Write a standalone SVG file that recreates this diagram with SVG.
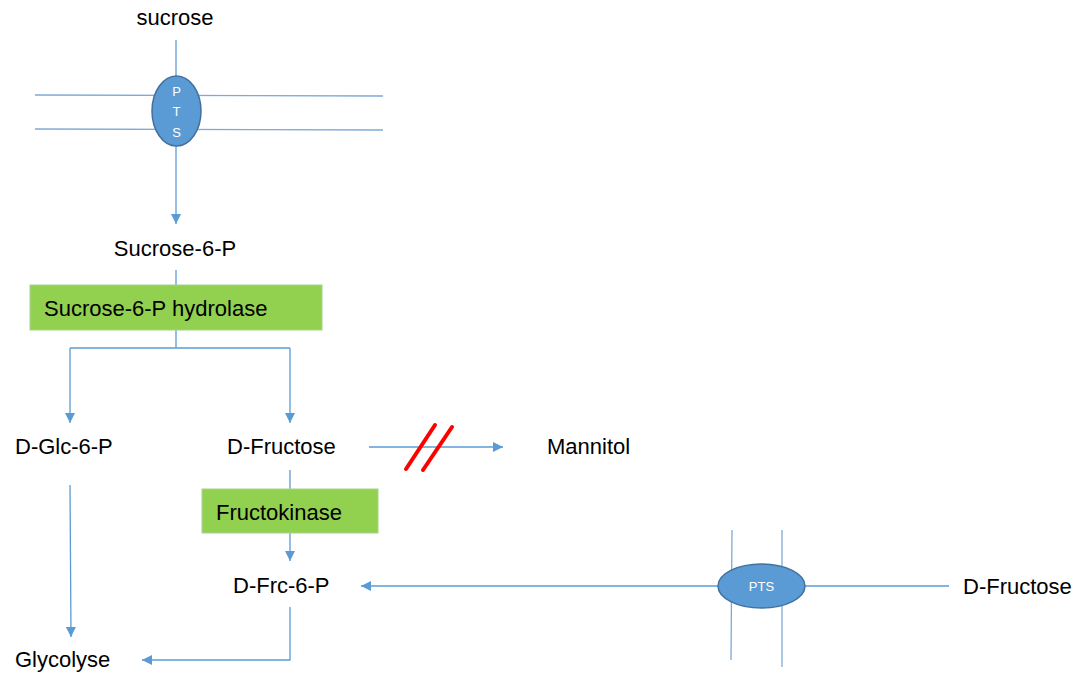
<svg xmlns="http://www.w3.org/2000/svg" width="1078" height="675" viewBox="0 0 1078 675">
  <style>
    .lbl { font-family: "Liberation Sans", Arial, sans-serif; font-size: 22px; fill: #000; }
    .pts { font-family: "Liberation Sans", Arial, sans-serif; font-size: 13px; fill: #fff; }
    .ln { stroke: #5B9BD5; stroke-width: 1.3; fill: none; }
    .mem { stroke: #7FA9D6; stroke-width: 1.3; fill: none; }
    .enz { fill: #92D050; stroke: #A9D18E; stroke-width: 1; }
    .carrier { fill: #5B9BD5; stroke: #41719C; stroke-width: 1.5; }
    .block { stroke: #FF0000; stroke-width: 4; stroke-linecap: round; }
  </style>
  <defs>
    <marker id="arr" markerWidth="10" markerHeight="10" refX="10" refY="5" orient="auto" markerUnits="userSpaceOnUse">
      <path d="M0,0 L10,5 L0,10 Z" fill="#5B9BD5"/>
    </marker>
  </defs>

  <!-- membranes -->
  <g id="membrane-top">
    <line class="mem" x1="35" y1="95" x2="383" y2="96"/>
    <line class="mem" x1="35" y1="129" x2="383" y2="130"/>
  </g>
  <g id="membrane-right">
    <line class="mem" x1="732" y1="530" x2="731" y2="660"/>
    <line class="mem" x1="782" y1="530" x2="782" y2="667"/>
  </g>

  <!-- connectors -->
  <g id="connectors">
    <line class="ln" x1="176" y1="40" x2="176" y2="76"/>
    <line class="ln" x1="176" y1="146" x2="176" y2="224" marker-end="url(#arr)"/>
    <line class="ln" x1="176" y1="270" x2="176" y2="285"/>
    <path class="ln" d="M176,330 V348 M70,348 H290"/>
    <line class="ln" x1="70" y1="348" x2="70" y2="423" marker-end="url(#arr)"/>
    <line class="ln" x1="290" y1="348" x2="290" y2="423" marker-end="url(#arr)"/>
    <line class="ln" x1="369" y1="447" x2="503" y2="447" marker-end="url(#arr)"/>
    <line class="ln" x1="290" y1="470" x2="290" y2="489"/>
    <line class="ln" x1="290" y1="533" x2="290" y2="561" marker-end="url(#arr)"/>
    <line class="ln" x1="70" y1="485" x2="71" y2="637" marker-end="url(#arr)"/>
    <path class="ln" d="M290,607 V660 H142" marker-end="url(#arr)"/>
    <line class="ln" x1="949" y1="586" x2="805" y2="586"/>
    <line class="ln" x1="718" y1="586" x2="361" y2="586" marker-end="url(#arr)"/>
  </g>

  <!-- blocked reaction mark -->
  <g id="block-mark">
    <line class="block" x1="406" y1="469" x2="435" y2="425"/>
    <line class="block" x1="423" y1="470" x2="452" y2="427"/>
  </g>

  <g id="sucrose"><text class="lbl" x="175" y="25" text-anchor="middle">sucrose</text></g>

  <g id="pts-top">
    <ellipse class="carrier" cx="176.5" cy="111" rx="24.5" ry="35"/>
    <text class="pts" x="176.5" y="96" text-anchor="middle">P</text>
    <text class="pts" x="176.5" y="116" text-anchor="middle">T</text>
    <text class="pts" x="176.5" y="137" text-anchor="middle">S</text>
  </g>

  <g id="sucrose-6-p"><text class="lbl" x="175" y="256" text-anchor="middle">Sucrose-6-P</text></g>

  <g id="hydrolase">
    <rect class="enz" x="30" y="285" width="292" height="45"/>
    <text class="lbl" x="44" y="316">Sucrose-6-P hydrolase</text>
  </g>

  <g id="d-glc-6-p"><text class="lbl" x="15" y="454">D-Glc-6-P</text></g>
  <g id="d-fructose"><text class="lbl" x="227" y="454">D-Fructose</text></g>
  <g id="mannitol"><text class="lbl" x="547" y="454">Mannitol</text></g>

  <g id="fructokinase">
    <rect class="enz" x="202" y="489" width="176" height="44"/>
    <text class="lbl" x="216" y="520">Fructokinase</text>
  </g>

  <g id="d-frc-6-p"><text class="lbl" x="233" y="593">D-Frc-6-P</text></g>
  <g id="glycolyse"><text class="lbl" x="15" y="667">Glycolyse</text></g>

  <g id="pts-right">
    <ellipse class="carrier" cx="761.5" cy="586" rx="43.5" ry="22"/>
    <text class="pts" x="761.5" y="591" text-anchor="middle" font-size="14">PTS</text>
  </g>

  <g id="d-fructose-ext"><text class="lbl" x="963" y="594">D-Fructose</text></g>
</svg>
